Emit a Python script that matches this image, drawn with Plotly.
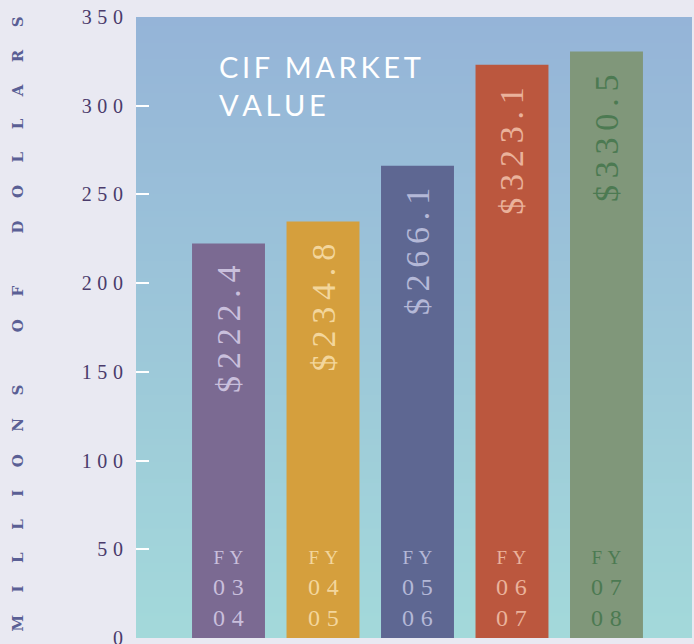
import plotly.graph_objects as go

# data
fiscal_years = [("03", "04"), ("04", "05"), ("05", "06"), ("06", "07"), ("07", "08")]
market_value = [222.4, 234.8, 266.1, 323.1, 330.5]
bar_colors = ["#7b6a92", "#d59f3d", "#5e6792", "#bb573e", "#80977a"]
label_colors = ["#c9bfdc", "#f3d69c", "#b4b8d7", "#eab29b", "#4c7a52"]
y_ticks = [0, 50, 100, 150, 200, 250, 300, 350]

PAGE_BG = "#e9e9f2"
GRAD_TOP = "#95b4d8"
GRAD_BOTTOM = "#a3d9da"
SERIF = "Liberation Serif, DejaVu Serif, serif"

THIN = "\u2009"
HAIR = "\u200a"
EN = "\u2002"
EM = "\u2003"


def spaced(s, sep=THIN):
    return sep.join(s)


x_idx = list(range(len(market_value)))
x_range = [-0.979, 4.905]

fig = go.Figure()

# gradient background behind the bars
fig.add_trace(go.Heatmap(
    x=[x_range[0] - 1, x_range[1] + 1],
    y=[0, 350],
    z=[[0, 0], [1, 1]],
    colorscale=[[0, GRAD_BOTTOM], [1, GRAD_TOP]],
    zsmooth="best",
    showscale=False,
    hoverinfo="skip",
))

fig.add_trace(go.Bar(
    x=x_idx,
    y=market_value,
    width=0.772,
    marker=dict(color=bar_colors, line=dict(width=0)),
    hoverinfo="skip",
))

annotations = []

# value labels, rotated, near the top of each bar
for i, v in enumerate(market_value):
    annotations.append(dict(
        x=i, y=v, xref="x", yref="y",
        text=spaced(f"${v:.1f}"),
        textangle=-90,
        showarrow=False,
        xanchor="center", yanchor="top",
        yshift=-20,
        font=dict(family=SERIF, size=34, color=label_colors[i]),
    ))

# FY labels at the foot of each bar
for i, (a, b) in enumerate(fiscal_years):
    annotations.append(dict(
        x=i, y=0, xref="x", yref="y",
        text=(f"<span style='font-size:19px'>{spaced('FY', THIN + HAIR)}</span><br>"
              f"{spaced(a, THIN + HAIR)}<br>{spaced(b, THIN + HAIR)}"),
        showarrow=False,
        xanchor="center", yanchor="bottom",
        yshift=5,
        font=dict(family=SERIF, size=24, color=label_colors[i]),
    ))

# chart title
annotations.append(dict(
    x=0.146, y=0.952, xref="paper", yref="paper",
    text=f"{spaced('CIF MARKET')}<br>{spaced('VALUE')}",
    showarrow=False, align="left",
    xanchor="left", yanchor="top",
    font=dict(family="Lato, Open Sans, sans-serif", size=29, color="white"),
))

# y axis title, widely letter-spaced
words = ["MILLIONS", "OF", "DOLLARS"]
gap = EM + EN
ytitle = (gap * 2 + EN).join(gap.join(w) for w in words)
annotations.append(dict(
    x=-0.212, y=0.505, xref="paper", yref="paper",
    text=f"<b>{ytitle}</b>",
    textangle=-90,
    showarrow=False,
    xanchor="center", yanchor="middle",
    font=dict(family="DejaVu Serif, serif", size=15, color="#5a5f95"),
))

fig.update_layout(
    width=694, height=644,
    margin=dict(l=136, r=2, t=17, b=6),
    paper_bgcolor=PAGE_BG,
    plot_bgcolor=GRAD_TOP,
    showlegend=False,
    annotations=annotations,
    xaxis=dict(
        range=x_range,
        showticklabels=False,
        showgrid=False,
        zeroline=False,
        ticks="",
        automargin=False,
    ),
    yaxis=dict(
        range=[0, 350],
        tickvals=y_ticks,
        ticktext=[spaced(str(t), THIN + HAIR) for t in y_ticks],
        ticks="inside",
        ticklen=13,
        tickwidth=2,
        tickcolor="white",
        ticklabelstandoff=12,
        ticklabeloverflow="allow",
        tickfont=dict(family=SERIF, size=20, color="#4a3b6b"),
        showgrid=False,
        zeroline=False,
        showline=False,
        automargin=False,
    ),
)

fig.write_html(
    "out.html",
    config={"displayModeBar": False},
    post_script="document.body.style.margin='0';",
)
